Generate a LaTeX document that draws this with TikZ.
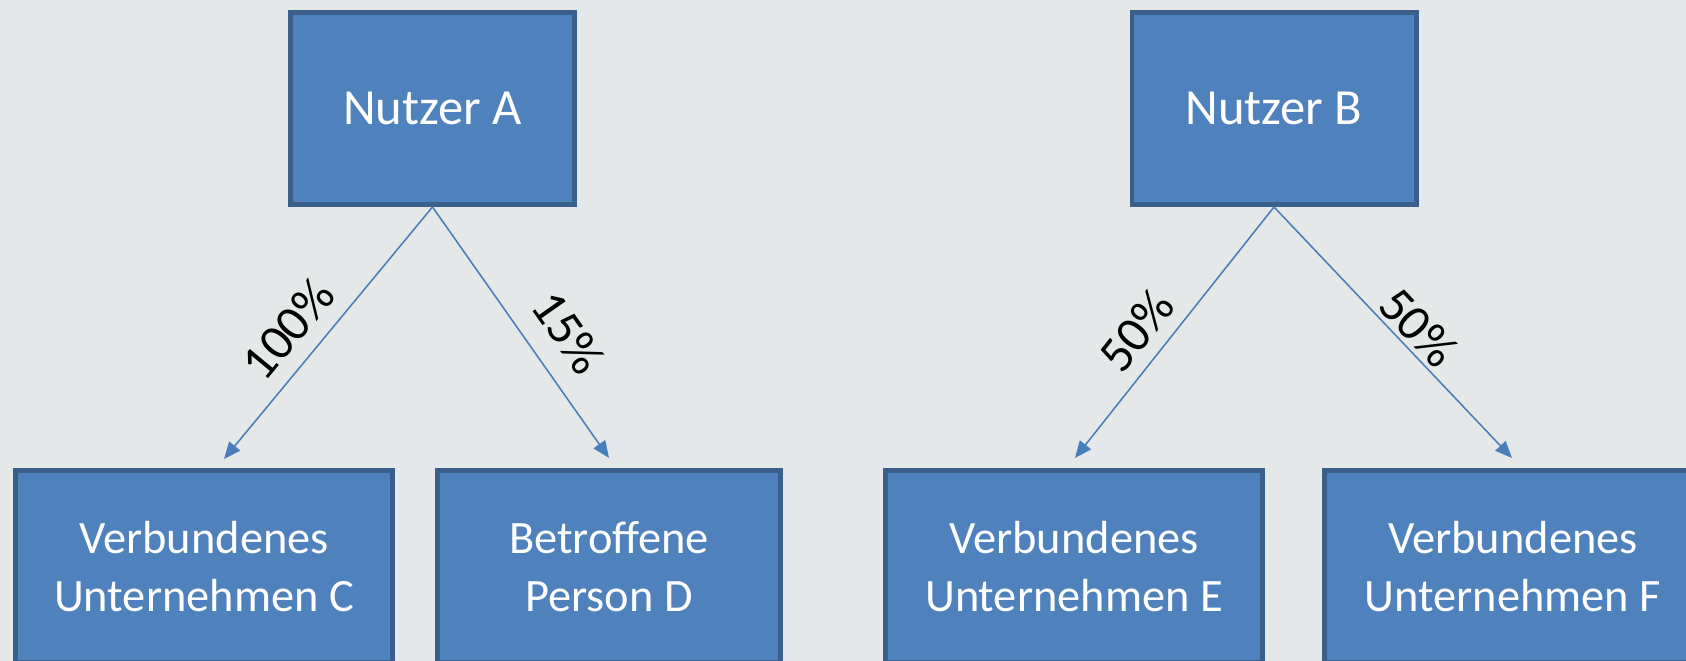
\documentclass[tikz,border=0pt]{standalone}
\usepackage{fontspec}
\setmainfont{Carlito}
\usetikzlibrary{arrows.meta}
\definecolor{boxBlue}{RGB}{79, 129, 189}
\definecolor{boxEdge}{RGB}{58, 95, 139}
\definecolor{lineBlue}{RGB}{74, 126, 187}
\definecolor{bgGrey}{RGB}{228, 232, 233}

\begin{document}
\begin{tikzpicture}[x=0.025cm, y=0.025cm,
    party/.style={draw=boxEdge, fill=boxBlue, line width=3.5pt, text=white,
      align=center, minimum height=4.8cm, inner sep=0pt,
      font=\fontsize{33}{41}\selectfont},
    share/.style={draw=lineBlue, line width=1.1pt,
      -{Triangle[length=12pt, width=10pt]}},
    pct/.style={sloped, inner sep=0pt, font=\fontsize{36}{38}\selectfont}]
  \useasboundingbox (0,0) rectangle (1686,661);
  \clip (0,0) rectangle (1686,661);
  \fill[bgGrey] (0,0) rectangle (1686,661);

  % owners
  \node[party, minimum width=7.1cm, font=\fontsize{36}{42}\selectfont] (nutzerA) at (432.5,552.5) {Nutzer A};
  \node[party, minimum width=7.1cm, font=\fontsize{36}{42}\selectfont] (nutzerB) at (1274,552.5) {Nutzer B};

  % held parties
  \node[party, minimum width=9.425cm] (untC) at (204,94.5) {Verbundenes\\Unternehmen C};
  \node[party, minimum width=8.575cm] (persD) at (609,94.5) {Betroffene\\Person D};
  \node[party, minimum width=9.425cm] (untE) at (1074,94.5) {Verbundenes\\Unternehmen E};
  \node[party, minimum width=9.425cm] (untF) at (1513,94.5) {Verbundenes\\Unternehmen F};

  % shares
  \draw[share] (nutzerA.south) -- ([shift={(20,9)}]untC.north)
    node[pct, pos=0.57, above=0.38cm] (shareC) {100\%};
  \draw[share] (nutzerA.south) -- ([shift={(0,10)}]persD.north)
    node[pct, pos=0.59, above=0.52cm] (shareD) {15\%};
  \draw[share] (nutzerB.south) -- ([shift={(1,10)}]untE.north)
    node[pct, pos=0.57, above=0.33cm] (shareE) {50\%};
  \draw[share] (nutzerB.south) -- ([shift={(-1,10)}]untF.north)
    node[pct, pos=0.54, above=0.1cm] (shareF) {50\%};
\end{tikzpicture}
\end{document}
